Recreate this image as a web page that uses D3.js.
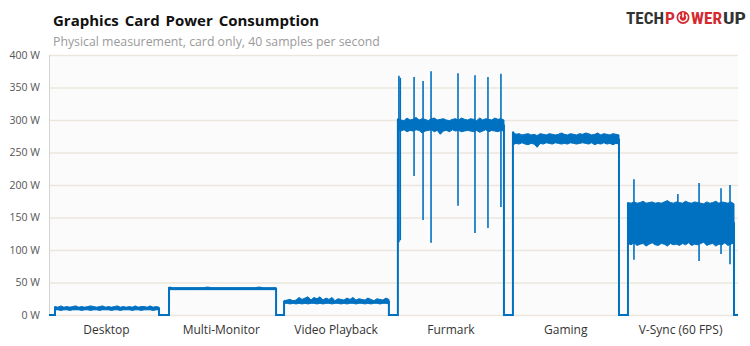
<!DOCTYPE html>
<html><head><meta charset="utf-8">
<script src="https://cdn.jsdelivr.net/npm/d3@7"></script>
<style>
html,body{margin:0;padding:0;background:#fff;}
svg{display:block;}
</style></head>
<body>
<svg id="chart" width="750" height="346"></svg>
<script>
// ---------------- DATA ----------------
const categories = ["Desktop","Multi-Monitor","Video Playback","Furmark","Gaming","V-Sync (60 FPS)"];
const yTicks = [0,50,100,150,200,250,300,350,400];
const timeEnd = 345; // seconds of recording shown
// start / end of each test (seconds)
const segStart = [3.0, 60.1, 117.7, 174.7, 232.3, 289.9];
const segEnd   = [55.1, 113.7, 170.2, 227.8, 285.4, 343.0];
// noise envelope of each test (W), sampled evenly across the test
const desktopHigh = [13,12,14,12,13,12,13,14,12,13,12,13,14,13,12,13,14,12,13,12,13,14,12,13,12,13,12,14,12,13,13,12,14,12,13,12];
const desktopLow  = [8,8,7,8,8,7,8,8,8,7,8,8,7,8,8,7,8,8,8,7,8,8,7,8,8,8,7,8,8,7,8,8,8,7,8,8];
const multiHigh   = [43,42,42,42,42,42,42,42,42,43,42,42,42,42,42,42,42,42,42,42,42,43,42,42,42,42];
const multiLow    = [39,39,39,39,39,39,39,39,39,39,39,39,39,39,39,39,39,39,39,39,39,39,39,39,39,39];
const videoHigh   = [22,23,24,22,23,27,24,26,28,23,27,25,28,23,26,24,27,22,25,24,23,26,24,27,23,25,24,23,26,24,22,25,24,23,26,24];
const videoLow    = [18,18,17,18,17,18,17,18,17,18,18,17,18,17,18,18,17,18,18,17,18,17,18,18,17,18,18,17,18,17,18,18,17,18,18,17];
const furmarkHigh = [302,300,299,303,300,301,304,300,302,301,299,302,303,300,301,302,300,299,301,302,300,303,301,300,302,301,299,303,300,302,301,300,303,301,302,300];
const furmarkLow  = [284,283,285,282,284,283,285,284,280,283,284,285,282,284,278,283,284,282,285,283,284,282,283,284,283,282,284,281,283,285,282,284,283,282,284,283];
const gamingHigh  = [282,278,279,277,278,279,277,278,276,279,278,277,279,278,277,278,280,278,277,279,278,277,279,278,280,279,277,278,280,277,279,278,277,279,278,277];
const gamingLow   = [262,264,263,265,263,262,264,263,258,264,263,265,264,263,265,264,263,264,263,265,264,263,264,265,264,263,265,262,264,263,265,263,264,262,264,263];
const vsyncHigh   = [173,172,174,172,173,175,172,173,174,172,173,172,174,176,173,172,174,173,172,175,173,172,174,173,172,171,174,172,173,175,172,174,173,172,174,171];
const vsyncLow    = [110,108,111,107,109,110,106,109,111,108,107,110,109,106,110,108,109,107,110,108,111,107,109,108,110,112,107,109,110,106,109,108,111,107,109,111];
// short spikes: time (s), low (W), high (W)
const spikeTime = [175.2, 175.9, 182.8, 187.3, 191.3, 204.8, 213.3, 219.8, 226.3, 292.9, 314.9, 325.5, 336.5, 341.0];
const spikeLow  = [112,   115,   214,   146,   111,   168,   126,   134,   166,   85,    110,   83,    94,    78];
const spikeHigh = [368,   365,   366,   360,   375,   372,   369,   366,   371,   209,   186,   203,   195,   200];

const highs = [desktopHigh, multiHigh, videoHigh, furmarkHigh, gamingHigh, vsyncHigh];
const lows  = [desktopLow, multiLow, videoLow, furmarkLow, gamingLow, vsyncLow];

// ---------------- LAYOUT ----------------
const svg = d3.select("#chart");
const pL = 49, pR = 738, pT = 55, pB = 315;
const blue = "#0070c0";
const font = "'Open Sans', 'Noto Sans', sans-serif";

const x = d3.scaleLinear().domain([0, timeEnd]).range([pL, pR]);
const y = d3.scaleLinear().domain([0, 400]).range([pB, pT]);
const band = d3.scaleBand().domain(categories).range([pL, pR]);

// plot background
svg.append("rect").attr("x", pL).attr("y", pT).attr("width", pR - pL).attr("height", pB - pT)
  .attr("fill", "#fbfbfb");

// gridlines
svg.append("g").selectAll("line").data(yTicks).join("line")
  .attr("x1", pL).attr("x2", pR)
  .attr("y1", d => y(d) + 0.5).attr("y2", d => y(d) + 0.5)
  .attr("stroke", "#ebe7df").attr("stroke-width", 1.5);

// left axis line
svg.append("line").attr("x1", pL + 0.5).attr("x2", pL + 0.5).attr("y1", pT).attr("y2", pB + 1)
  .attr("stroke", "#d4d4d4").attr("stroke-width", 1);

// y tick labels
const yAxis = d3.axisLeft(y).tickValues(yTicks).tickFormat(d => d + " W").tickSize(0).tickPadding(9);
const ga = svg.append("g").attr("transform", `translate(${pL},0)`).call(yAxis);
ga.select(".domain").remove();
ga.selectAll("text").attr("font-family", font).attr("font-size", 10.5).attr("fill", "#555");

// category labels
const xAxis = d3.axisBottom(band).tickSize(0).tickPadding(10);
const gx = svg.append("g").attr("transform", `translate(0,${pB})`).call(xAxis);
gx.select(".domain").remove();
gx.selectAll("text").attr("font-family", font).attr("font-size", 12).attr("fill", "#333");

// ---------------- TRACE ----------------
const skel = [[0, 0]];
categories.forEach((c, i) => {
  const hi = highs[i], lo = lows[i];
  const mid0 = (hi[0] + lo[0]) / 2, midN = (hi[hi.length-1] + lo[lo.length-1]) / 2;
  skel.push([segStart[i], 0], [segStart[i], hi[0]], [segStart[i], mid0]);
  skel.push([segEnd[i], midN], [segEnd[i], 0]);
});
skel.push([timeEnd, 0]);
const line = d3.line().x(d => x(d[0])).y(d => y(d[1]));
svg.append("path").attr("d", line(skel)).attr("fill", "none")
  .attr("stroke", blue).attr("stroke-width", 2).attr("stroke-linejoin", "miter");

const area = d3.area().x(d => x(d.t)).y0(d => y(d.lo)).y1(d => y(d.hi));
categories.forEach((c, i) => {
  const hi = highs[i], lo = lows[i], n = hi.length;
  const pts = hi.map((h, k) => ({ t: segStart[i] + (segEnd[i] - segStart[i]) * k / (n - 1), hi: h, lo: lo[k] }));
  svg.append("path").attr("d", area(pts)).attr("fill", blue)
    .attr("stroke", blue).attr("stroke-width", 1).attr("stroke-linejoin", "miter");
});

svg.append("g").selectAll("line").data(spikeTime).join("line")
  .attr("x1", d => x(d)).attr("x2", d => x(d))
  .attr("y1", (d, i) => y(spikeLow[i])).attr("y2", (d, i) => y(spikeHigh[i]))
  .attr("stroke", blue).attr("stroke-width", 1.6);

// ---------------- TITLES ----------------
svg.append("text").attr("x", 53).attr("y", 26).text("Graphics Card Power Consumption")
  .attr("font-family", font).attr("font-weight", "bold").attr("font-size", 15)
  .attr("word-spacing", 2).attr("fill", "#111");
svg.append("text").attr("x", 53).attr("y", 46).text("Physical measurement, card only, 40 samples per second")
  .attr("font-family", font).attr("font-size", 12.3).attr("fill", "#9a9a9a");

// ---------------- LOGO ----------------
const logoFont = "'Roboto Condensed','DejaVu Sans Condensed','Roboto', sans-serif";
const logo = svg.append("g").attr("font-family", logoFont).attr("font-weight", "bold").attr("font-size", 16.5);
logo.append("text").attr("x", 626).attr("y", 24).text("TECH").attr("fill", "#333")
  .attr("textLength", 38).attr("lengthAdjust", "spacingAndGlyphs");
logo.append("text").attr("x", 665).attr("y", 24).text("P").attr("fill", "#d42a2f")
  .attr("textLength", 10).attr("lengthAdjust", "spacingAndGlyphs");
logo.append("circle").attr("cx", 683).attr("cy", 17.5).attr("r", 6.5).attr("fill", "#d42a2f");
logo.append("path").attr("d", "M680.2,14.6 A4,4 0 1 0 685.8,14.6").attr("fill", "none")
  .attr("stroke", "#fff").attr("stroke-width", 1.6);
logo.append("line").attr("x1", 683).attr("x2", 683).attr("y1", 12.5).attr("y2", 17.5)
  .attr("stroke", "#fff").attr("stroke-width", 1.6);
logo.append("text").attr("x", 691).attr("y", 24).text("WER").attr("fill", "#d42a2f")
  .attr("textLength", 31).attr("lengthAdjust", "spacingAndGlyphs");
logo.append("text").attr("x", 723).attr("y", 24).text("UP").attr("fill", "#333")
  .attr("textLength", 23).attr("lengthAdjust", "spacingAndGlyphs");
</script>
</body></html>
